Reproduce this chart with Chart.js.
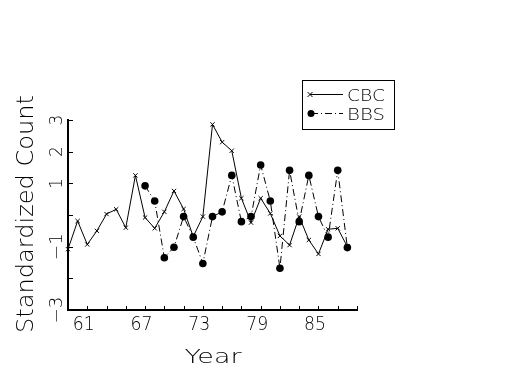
<!DOCTYPE html>
<html>
<head>
<meta charset="utf-8">
<script src="https://cdn.jsdelivr.net/npm/chart.js@4.4.1/dist/chart.umd.min.js"></script>
<style>
  html, body { margin: 0; padding: 0; background: #fff; }
  #wrap { width: 525px; height: 375px; position: relative; }
</style>
</head>
<body>
<div id="wrap"><canvas id="chart-canvas" width="525" height="375"></canvas></div>
<script>
const years = [59, 60, 61, 62, 63, 64, 65, 66, 67, 68, 69, 70, 71, 72, 73, 74, 75, 76, 77, 78, 79, 80, 81, 82, 83, 84, 85, 86, 87, 88];
const cbcValues = [-1.08, -0.19, -0.93, -0.5, 0.03, 0.18, -0.4, 1.25, -0.08, -0.42, 0.1, 0.76, 0.19, -0.68, -0.05, 2.86, 2.3, 2.03, 0.53, -0.24, 0.53, 0.05, -0.66, -0.95, -0.05, -0.79, -1.23, -0.45, -0.42, -1.0];
const bbsValues = [null, null, null, null, null, null, null, null, 0.92, 0.44, -1.35, -1.02, -0.05, -0.7, -1.53, -0.05, 0.1, 1.25, -0.21, -0.05, 1.58, 0.44, -1.68, 1.41, -0.21, 1.25, -0.05, -0.7, 1.41, -1.03];

const xTickValues = [59, 61, 63, 65, 67, 69, 71, 73, 75, 77, 79, 81, 83, 85, 87, 89];
const xLabelValues = [61, 67, 73, 79, 85];
const yTickValues = [-3, -2, -1, 0, 1, 2, 3];
const yLabelValues = [3, 2, 1, -1, -3];
const yLabelText = ["3", "2", "1", "\u22121", "\u22123"];

const FONT = '"DejaVu Sans", "Liberation Sans", sans-serif';
const BBS_DASH = [7, 3, 1, 3];

function toPoints(values) {
  return years.map((yr, i) => ({ x: yr, y: values[i] }));
}

// draw text stretched to a given width (the reference font is wide)
function fitText(ctx, text, x, y, width, size, rotate) {
  ctx.save();
  ctx.font = "200 " + size + "px " + FONT;
  ctx.textAlign = "center";
  ctx.textBaseline = "alphabetic";
  ctx.translate(x, y);
  if (rotate) ctx.rotate(-Math.PI / 2);
  if (width) {
    const w = ctx.measureText(text).width;
    ctx.scale(width / w, 1);
  }
  ctx.fillStyle = "#000";
  ctx.fillText(text, 0, 0);
  ctx.restore();
}

const axisDecor = {
  id: "axisDecor",
  afterDraw(chart) {
    const ctx = chart.ctx;
    const xs = chart.scales.x;
    const ys = chart.scales.y;
    const area = chart.chartArea;

    // inward ticks
    ctx.save();
    ctx.strokeStyle = "#000";
    ctx.lineWidth = 1;
    ctx.beginPath();
    xTickValues.forEach((v) => {
      const px = Math.round(xs.getPixelForValue(v)) + 0.5;
      ctx.moveTo(px, area.bottom);
      ctx.lineTo(px, area.bottom - 4);
    });
    yTickValues.forEach((v) => {
      const py = Math.round(ys.getPixelForValue(v)) + 0.5;
      ctx.moveTo(area.left, py);
      ctx.lineTo(area.left + 5, py);
    });
    ctx.stroke();
    ctx.restore();

    // tick labels
    xLabelValues.forEach((v) => {
      fitText(ctx, String(v), xs.getPixelForValue(v) - 3.5, 330, 22, 20, false);
    });
    yLabelValues.forEach((v, i) => {
      const w = yLabelText[i].length > 1 ? 27 : 0;
      fitText(ctx, yLabelText[i], 62, ys.getPixelForValue(v), w, 17, true);
    });

    // axis titles
    fitText(ctx, "Year", 213, 363, 57, 20, false);
    fitText(ctx, "Standardized Count", 33, 214, 238, 23, true);

    // legend
    ctx.save();
    ctx.strokeStyle = "#000";
    ctx.lineWidth = 1;
    ctx.strokeRect(302.5, 80.5, 92, 49);
    ctx.beginPath();
    ctx.moveTo(310, 94.5);
    ctx.lineTo(343, 94.5);
    ctx.stroke();
    ctx.beginPath();
    ctx.moveTo(307.5, 92);
    ctx.lineTo(312.5, 97);
    ctx.moveTo(312.5, 92);
    ctx.lineTo(307.5, 97);
    ctx.stroke();
    ctx.setLineDash(BBS_DASH);
    ctx.beginPath();
    ctx.moveTo(311, 113.5);
    ctx.lineTo(343, 113.5);
    ctx.stroke();
    ctx.setLineDash([]);
    ctx.beginPath();
    ctx.arc(311, 113.5, 3.5, 0, Math.PI * 2);
    ctx.fillStyle = "#000";
    ctx.fill();
    ctx.restore();
    fitText(ctx, "CBC", 366, 101, 38, 15, false);
    fitText(ctx, "BBS", 366, 120, 38, 15, false);
  },
};

function renderChart() {
  const ctx = document.getElementById("chart-canvas").getContext("2d");
  const config = {
    type: "line",
    data: {
      datasets: [
        {
          label: "CBC",
          data: toPoints(cbcValues),
          borderColor: "#000",
          backgroundColor: "#000",
          borderWidth: 1,
          pointStyle: "crossRot",
          pointRadius: 3,
          pointBorderWidth: 1,
          tension: 0,
        },
        {
          label: "BBS",
          data: toPoints(bbsValues),
          borderColor: "#000",
          backgroundColor: "#000",
          borderWidth: 1,
          borderDash: BBS_DASH,
          pointStyle: "circle",
          pointRadius: 3.8,
          pointBorderWidth: 0,
          tension: 0,
          spanGaps: false,
        },
      ],
    },
    options: {
      responsive: false,
      animation: false,
      clip: false,
      layout: { padding: { left: 68, right: 168, top: 120, bottom: 65 } },
      plugins: {
        legend: { display: false },
        tooltip: { enabled: false },
      },
      scales: {
        x: {
          type: "linear",
          min: 59,
          max: 89,
          grid: { display: false },
          ticks: { display: false },
          border: { display: true, color: "#000", width: 2 },
          afterFit: (scale) => { scale.height = 0; },
        },
        y: {
          min: -3,
          max: 3,
          grid: { display: false },
          ticks: { display: false },
          border: { display: true, color: "#000", width: 2 },
          afterFit: (scale) => { scale.width = 0; },
        },
      },
    },
    plugins: [axisDecor],
  };
  new Chart(ctx, config);
}

renderChart();
</script>
</body>
</html>
